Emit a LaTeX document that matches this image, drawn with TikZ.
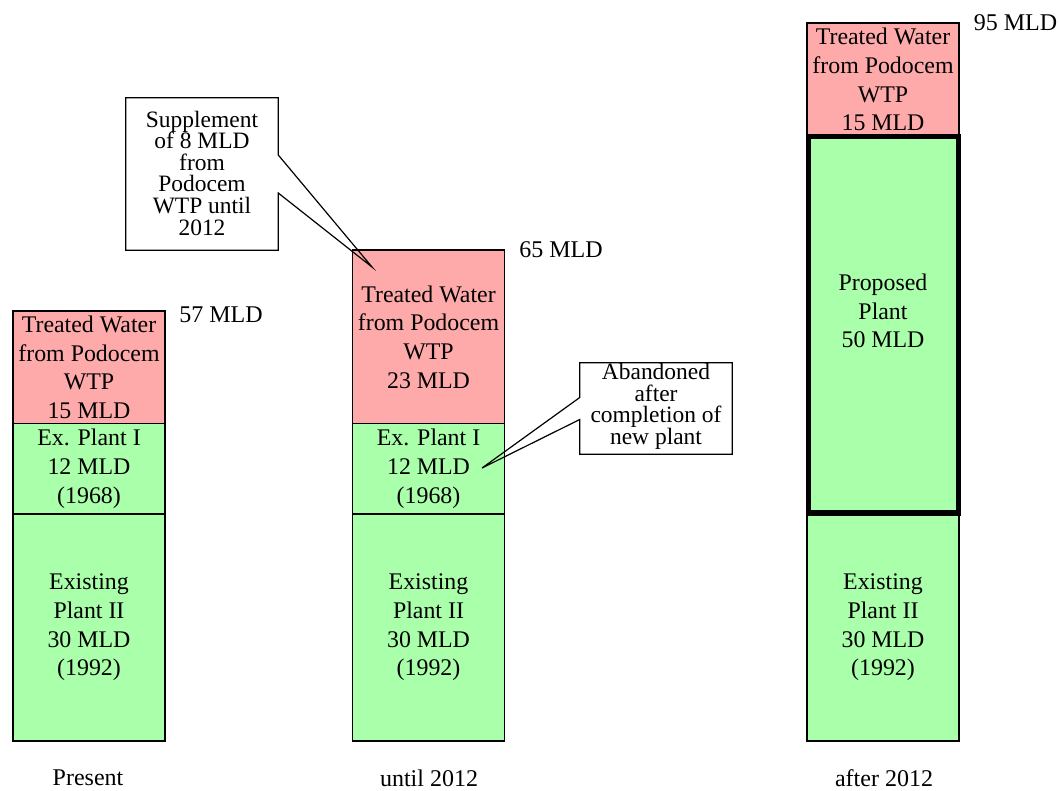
\documentclass[tikz,border=0pt]{standalone}
\usepackage{fontspec}
\setmainfont{Liberation Serif}
\usetikzlibrary{calc}
\definecolor{pinkfill}{HTML}{FFAAAA}
\definecolor{greenfill}{HTML}{AAFFAA}
\begin{document}
\begin{tikzpicture}[x=0.75pt,y=-0.75pt,
  blk/.style={draw, line width=1.1pt, inner sep=0pt, minimum width=114pt, align=center,
    font=\fontsize{17.9}{21.5}\selectfont},
  pinkblk/.style={blk, fill=pinkfill},
  greenblk/.style={blk, fill=greenfill},
  thickblk/.style={draw, line width=4pt, fill=greenfill, inner sep=0pt, minimum width=112.5pt},
  lbl/.style={font=\fontsize{18}{21.5}\selectfont, inner sep=0pt, align=center},
  calltext/.style={inner sep=0pt, align=center, minimum width=114pt,
    font=\fontsize{17.6}{16.2}\selectfont},
  callline/.style={draw, line width=0.9pt, line join=miter}]
\useasboundingbox (0,0) rectangle (1059,790);

% Column 1 (Present)
\node[pinkblk, minimum height=84.4pt] (p1) at (89,367.25) {Treated Water\\from Podocem\\WTP\\15 MLD};
\node[greenblk, minimum height=67.9pt] (e1) at (89,468.75) {Ex. Plant I\\12 MLD\\(1968)};
\node[greenblk, minimum height=170.25pt] (x1) at (89,627.5) {Existing\\Plant II\\30 MLD\\(1992)};
\node[lbl] (t1) at (221,315) {57 MLD};
\node[lbl] (b1) at (88,778) {Present};

% Column 2 (until 2012)
\node[pinkblk, minimum height=130.5pt] (p2) at (428.5,337) {Treated Water\\from Podocem\\WTP\\23 MLD};
\node[greenblk, minimum height=67.9pt] (e2) at (428.5,468.75) {Ex. Plant I\\12 MLD\\(1968)};
\node[greenblk, minimum height=170.25pt] (x2) at (428.5,627.5) {Existing\\Plant II\\30 MLD\\(1992)};
\node[lbl] (t2) at (561,250) {65 MLD};
\node[lbl] (b2) at (429,778) {until 2012};

% Column 3 (after 2012)
\node[greenblk, minimum height=170.25pt] (x3) at (883,627.5) {Existing\\Plant II\\30 MLD\\(1992)};
\node[pinkblk, minimum height=85.1pt] (p3) at (883,79.75) {Treated Water\\from Podocem\\WTP\\15 MLD};
\node[thickblk, minimum height=282.4pt] (n3) at (883.5,324.75) {};
\node[lbl, font=\fontsize{17.9}{21.5}\selectfont] (n3t) at (883,311) {Proposed\\Plant\\50 MLD};
\node[lbl] (t3) at (1015.5,23) {95 MLD};
\node[lbl] (b3) at (884,778) {after 2012};

% Callout 1
\node[calltext, minimum height=114pt] (c1) at (202,173) {Supplement\\of 8 MLD\\from\\Podocem\\WTP until\\2012};
\coordinate (tip1) at (372,267);
\draw[callline] ($(c1.north west)+(0,1)$) -- ($(c1.north east)+(0,1)$)
  -- ($(c1.east)+(0,-18)$) -- (tip1)
  -- ($(c1.east)+(0,20)$) -- ($(c1.south east)+(0,1)$) -- ($(c1.south west)+(0,1)$) -- cycle;

% Callout 2
\node[calltext, minimum height=68.25pt] (c2) at (656,406.5) {Abandoned\\after\\completion of\\new plant};
\coordinate (tip2) at (482,468);
\draw[callline] ($(c2.north west)+(0,2)$) -- ($(c2.north east)+(0,2)$) -- ($(c2.south east)+(0,2)$) -- ($(c2.south west)+(0,2)$)
  -- ($(c2.west)+(0,13)$) -- (tip2) -- ($(c2.west)+(0,-9)$) -- cycle;
\end{tikzpicture}
\end{document}
